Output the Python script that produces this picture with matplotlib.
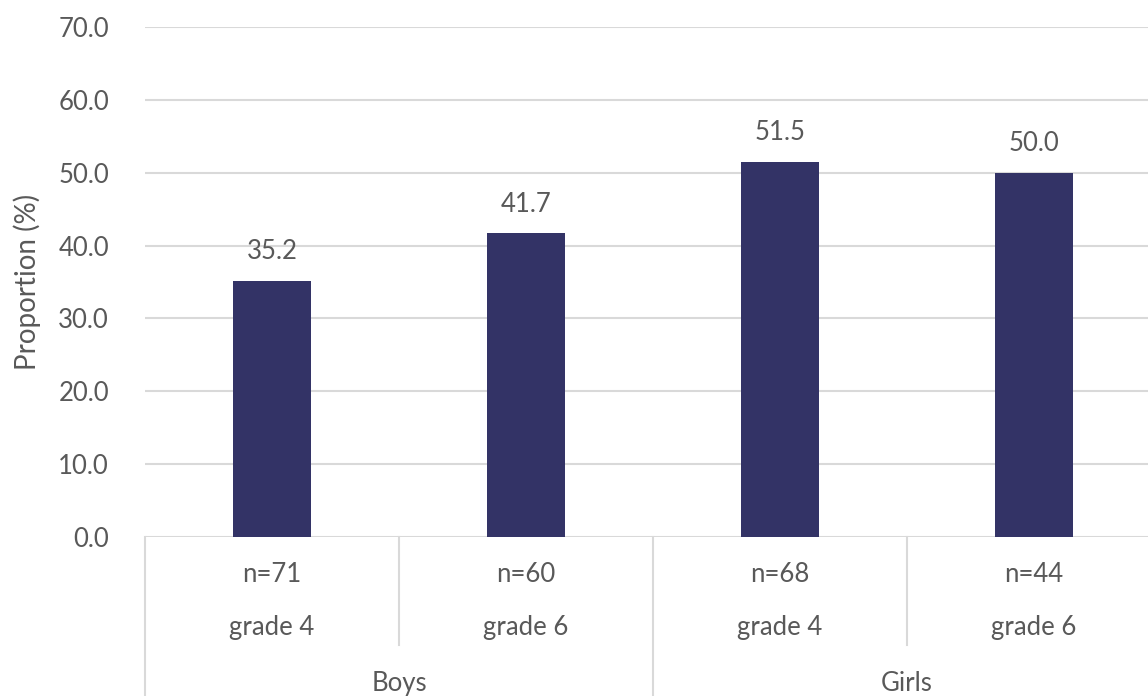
import matplotlib
matplotlib.use("Agg")
import matplotlib.pyplot as plt
from matplotlib.lines import Line2D

plt.rcParams['font.family'] = ['Lato', 'DejaVu Sans']

groups = ["Boys", "Girls"]
grades = ["grade 4", "grade 6", "grade 4", "grade 6"]
ns = ["n=71", "n=60", "n=68", "n=44"]
values = [35.2, 41.7, 51.5, 50.0]
yticks = [0, 10, 20, 30, 40, 50, 60, 70]

bar_color = "#333366"
text_color = "#595959"
grid_color = "#D9D9D9"
fs = 18.5

fig = plt.figure(figsize=(11.48, 6.96), dpi=100)
ax = fig.add_axes([145/1148, 1 - 537/696, 1016/1148, 510/696])

x = list(range(len(values)))
ax.bar(x, values, width=0.31, color=bar_color, zorder=3)
ax.set_xlim(-0.5, len(values) - 0.5)
ax.set_ylim(0, 70)
ax.set_yticks(yticks)
ax.set_yticklabels([f"{v:.1f}" for v in yticks])
ax.tick_params(axis='y', length=0, pad=26, labelsize=fs, labelcolor=text_color)
ax.set_xticks([])
for s in ax.spines.values():
    s.set_visible(False)
ax.grid(axis='y', color=grid_color, linewidth=1.5, zorder=0)
ax.set_ylabel("Proportion (%)", fontsize=20, color=text_color, labelpad=12)

for xi, v in zip(x, values):
    ax.annotate(f"{v:.1f}", (xi, v), xytext=(0, 12), textcoords='offset points',
                ha='center', va='bottom', fontsize=fs, color=text_color)

tr = ax.get_xaxis_transform()
for xi, n, g in zip(x, ns, grades):
    ax.text(xi, -0.0745, n, transform=tr, ha='center', va='center', fontsize=fs, color=text_color)
    ax.text(xi, -0.178, g, transform=tr, ha='center', va='center', fontsize=fs, color=text_color)
for gi, grp in enumerate(groups):
    ax.text(gi * 2 + 0.5, -0.288, grp, transform=tr, ha='center', va='center', fontsize=fs, color=text_color)

# separators
for xb in [-0.5, 1.5, 3.5]:
    ax.add_line(Line2D([xb, xb], [0, -0.4], transform=tr, color=grid_color, lw=1.5, clip_on=False))
for xb in [0.5, 2.5]:
    ax.add_line(Line2D([xb, xb], [0, -0.212], transform=tr, color=grid_color, lw=1.5, clip_on=False))

fig.savefig("out.png", dpi=100)
